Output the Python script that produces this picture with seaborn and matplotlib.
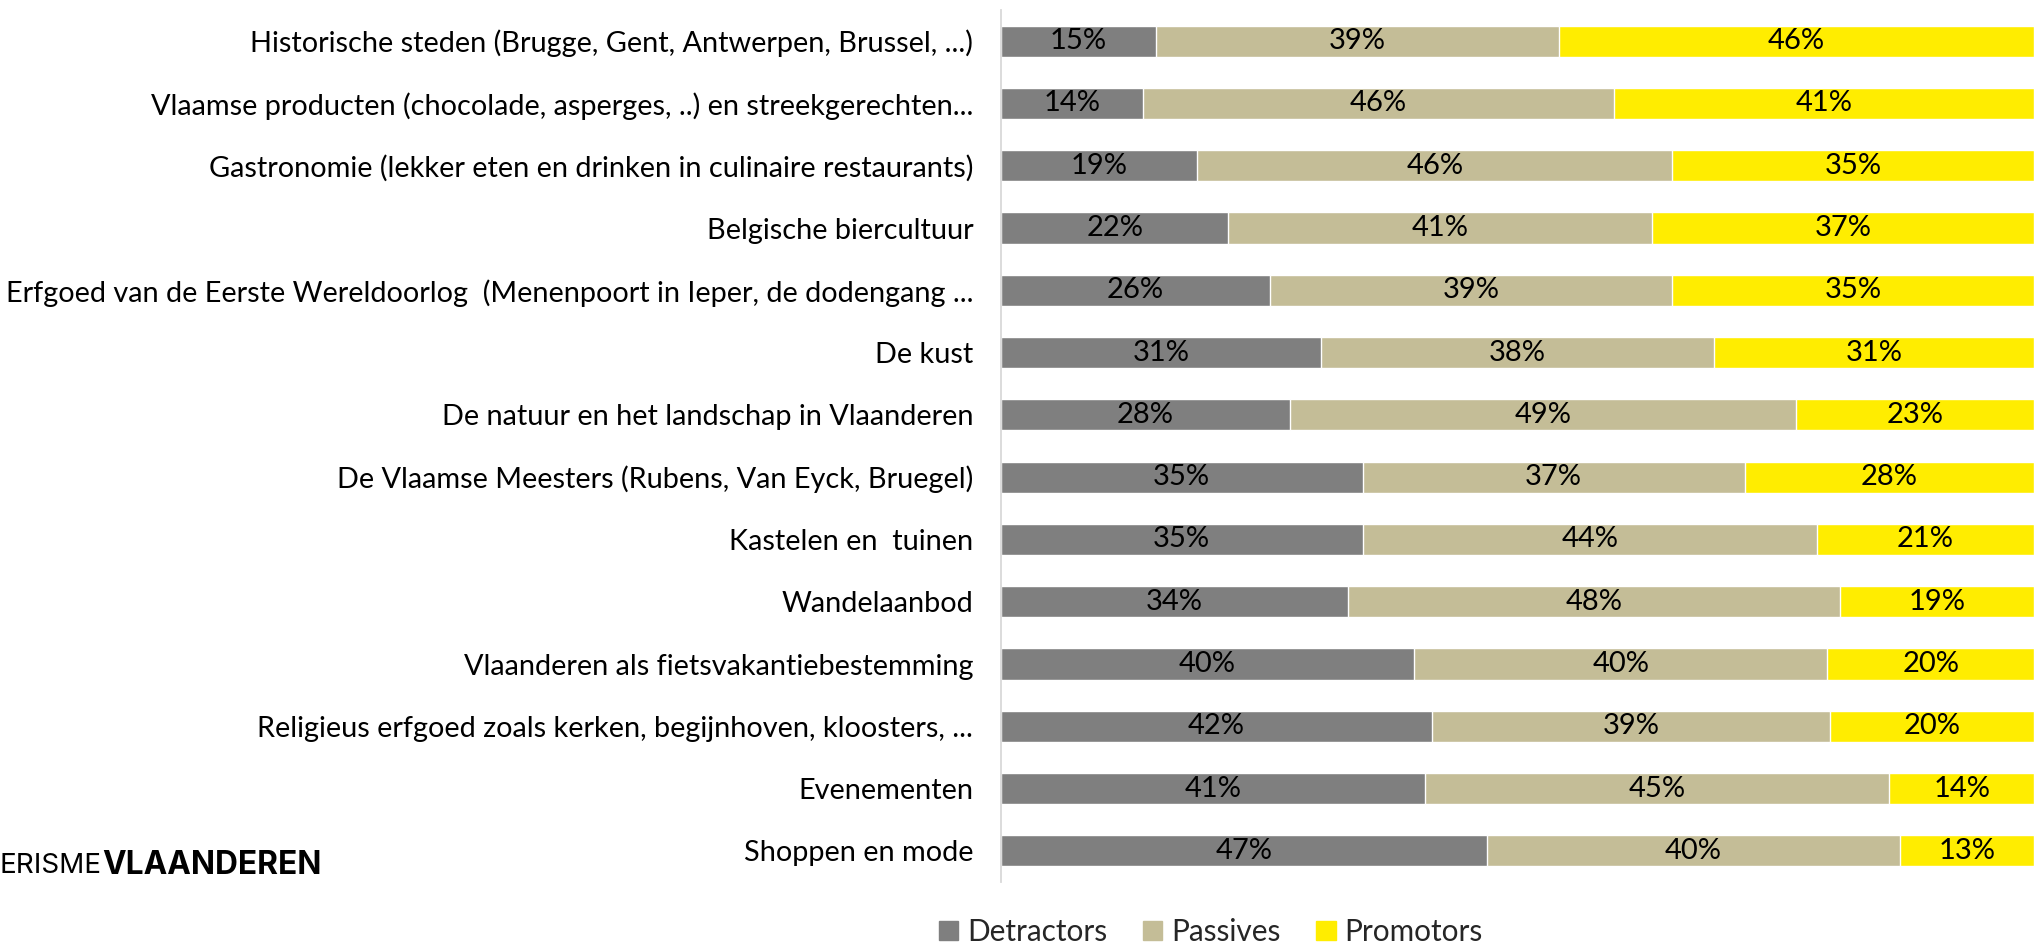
import pandas as pd
import seaborn as sns
from matplotlib import pyplot as plt
from matplotlib.patches import Patch

categories = [
    "Historische steden (Brugge, Gent, Antwerpen, Brussel, ...)",
    "Vlaamse producten (chocolade, asperges, ..) en streekgerechten...",
    "Gastronomie (lekker eten en drinken in culinaire restaurants)",
    "Belgische biercultuur",
    "Erfgoed van de Eerste Wereldoorlog  (Menenpoort in Ieper, de dodengang ...",
    "De kust",
    "De natuur en het landschap in Vlaanderen",
    "De Vlaamse Meesters (Rubens, Van Eyck, Bruegel)",
    "Kastelen en  tuinen",
    "Wandelaanbod",
    "Vlaanderen als fietsvakantiebestemming",
    "Religieus erfgoed zoals kerken, begijnhoven, kloosters, ...",
    "Evenementen",
    "Shoppen en mode",
]
detractors = [15, 13.7, 19, 22, 26, 31, 28, 35, 35, 33.6, 40, 41.7, 41, 47]
passives = [39, 45.6, 46, 41, 39, 38, 49, 37, 44, 47.6, 40, 38.6, 45, 40]
promotors = [46, 40.7, 35, 37, 35, 31, 23, 28, 21, 18.8, 20, 19.7, 14, 13]

series_names = ["Detractors", "Passives", "Promotors"]
colors = ["#7F7F7F", "#C4BD97", "#FFED00"]


def get_data_frame():
    df = pd.DataFrame({
        "category": categories,
        "Detractors": detractors,
        "Passives": passives,
        "Promotors": promotors,
    })
    df["upto_passives"] = df["Detractors"] + df["Passives"]
    df["upto_promotors"] = df["upto_passives"] + df["Promotors"]
    return df


def draw_chart():
    df = get_data_frame()
    sns.set_style("white")
    plt.rcParams["font.family"] = ["Lato", "DejaVu Sans"]

    fig = plt.figure(figsize=(20.34, 9.44), dpi=100)
    ax = fig.add_axes([1001 / 2034, 62 / 944, 1 - 1001 / 2034, 872 / 944])

    # stacked bars by drawing cumulative totals back to front
    for col, color in zip(["upto_promotors", "upto_passives", "Detractors"], colors[::-1]):
        sns.barplot(data=df, x=col, y="category", color=color, width=0.5,
                    orient="h", saturation=1, ax=ax)

    for i, row in df.iterrows():
        left = 0
        for name in series_names:
            val = row[name]
            ax.text(left + val / 2, i, f"{val:.0f}%", ha="center", va="center",
                    fontsize=21, color="black")
            left += val

    ax.set_xlim(0, 100)
    ax.set_ylim(13.5, -0.5)
    ax.set_xticks([])
    ax.set_xlabel("")
    ax.set_ylabel("")
    ax.tick_params(axis="y", length=0, pad=20, labelsize=20.8, labelcolor="black")
    for side in ["top", "right", "bottom"]:
        ax.spines[side].set_visible(False)
    ax.spines["left"].set_color("#D9D9D9")
    ax.spines["left"].set_linewidth(1.3)

    handles = [Patch(color=c, label=n) for n, c in zip(series_names, colors)]
    fig.legend(handles=handles, loc="center", bbox_to_anchor=(1211 / 2034, 1 - 932 / 944),
               ncol=3, frameon=False, fontsize=21.4, handlelength=0.65, handleheight=0.65,
               handletextpad=0.3, columnspacing=1.2)

    # logo text, cut off at the left edge
    fig.canvas.draw()
    t1 = fig.text(0.0, 1 - 866 / 944, "ERISME", fontsize=20, va="center",
                  family=["Inter", "DejaVu Sans"], color="black")
    renderer = fig.canvas.get_renderer()
    bb = t1.get_window_extent(renderer=renderer)
    fig.text(bb.x1 / fig.bbox.width, 1 - 866 / 944, "VLAANDEREN", fontsize=22.8, va="center",
             family=["Inter", "DejaVu Sans"], fontweight="bold", color="black")

    fig.savefig("out.png", dpi=100)


draw_chart()
